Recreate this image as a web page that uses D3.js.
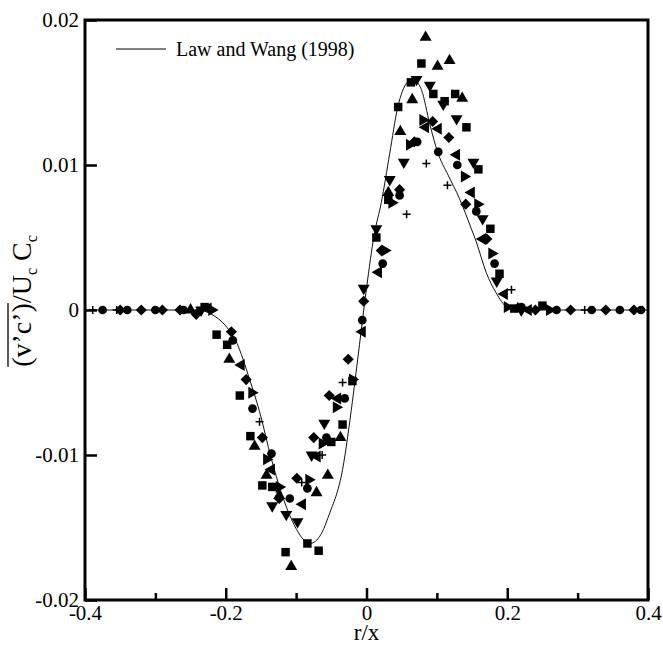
<!DOCTYPE html>
<html lang="en">
<head>
<meta charset="utf-8">
<title>v'c' profile</title>
<script src="https://d3js.org/d3.v7.min.js"></script>
<style>
  body { margin: 0; background: #fff; }
  text { font-family: "Liberation Serif", "Times New Roman", serif; fill: #000; }
</style>
</head>
<body>
<svg width="663" height="648"></svg>
<script>
// axis ticks
var xTicks = [-0.4, -0.2, 0, 0.2, 0.4];
var xTickLabels = ["-0.4", "-0.2", "0", "0.2", "0.4"];
var xMinor = [-0.3, -0.1, 0.1, 0.3];
var yTicks = [-0.02, -0.01, 0, 0.01, 0.02];
var yTickLabels = ["-0.02", "-0.01", "0", "0.01", "0.02"];

// Law and Wang (1998) curve
var modelR = [-0.4, -0.24, -0.22, -0.2, -0.185, -0.166, -0.152, -0.135, -0.121, -0.105, -0.09, -0.08, -0.065, -0.053, -0.034, -0.02, -0.01, 0, 0.011, 0.021, 0.033, 0.044, 0.058, 0.066, 0.078, 0.09, 0.101, 0.116, 0.132, 0.149, 0.156, 0.17, 0.184, 0.2, 0.22, 0.4];
var modelY = [0, 0, -0.0003, -0.0011, -0.0022, -0.0048, -0.007, -0.0103, -0.0126, -0.0146, -0.0158, -0.0161, -0.0155, -0.0141, -0.011, -0.0063, -0.0024, 0.0015, 0.0052, 0.0074, 0.0108, 0.0139, 0.0157, 0.0159, 0.0152, 0.0128, 0.0109, 0.0093, 0.0077, 0.0056, 0.0047, 0.0026, 0.0012, 0.0002, 0, 0];

// measured points [r/x, value]
var circles = [[-0.375,0],[-0.34,0],[-0.30,0],[-0.26,0],[-0.19,-0.0021],[-0.162,-0.0068],[-0.135,-0.0099],[-0.109,-0.013],[-0.084,-0.0123],[-0.057,-0.0088],[-0.031,-0.0061],[-0.006,-0.0007],[0.023,0.0032],[0.047,0.0079],[0.072,0.0116],[0.102,0.0109],[0.129,0.01],[0.156,0.0068],[0.182,0.0032],[0.22,0.0002],[0.27,0],[0.32,0],[0.36,0],[0.39,0]];
var squares = [[-0.23,0.0002],[-0.213,-0.0017],[-0.198,-0.0024],[-0.18,-0.0059],[-0.165,-0.0087],[-0.148,-0.0121],[-0.134,-0.0122],[-0.115,-0.0167],[-0.084,-0.0161],[-0.068,-0.0166],[-0.05,-0.0091],[-0.034,-0.0079],[-0.02,-0.0049],[0.014,0.005],[0.031,0.0076],[0.045,0.014],[0.063,0.0157],[0.078,0.017],[0.095,0.0149],[0.111,0.0144],[0.126,0.0149],[0.142,0.0126],[0.159,0.0097],[0.176,0.0056],[0.189,0.0025],[0.21,0.0001],[0.25,0.0003]];
var triUp = [[-0.25,0],[-0.195,-0.0034],[-0.159,-0.0094],[-0.142,-0.0114],[-0.124,-0.0128],[-0.107,-0.0177],[-0.071,-0.0126],[-0.055,-0.0114],[-0.037,-0.0088],[0.031,0.0081],[0.048,0.0123],[0.065,0.0145],[0.084,0.0188],[0.101,0.0168],[0.118,0.0172],[0.136,0.0146],[0.215,0.0001]];
var triDown = [[-0.235,0],[-0.134,-0.0135],[-0.114,-0.0141],[-0.098,-0.0146],[-0.078,-0.01],[-0.06,-0.0078],[-0.004,0.0015],[0.014,0.0056],[0.033,0.009],[0.053,0.0102],[0.071,0.0159],[0.09,0.0155],[0.109,0.0142],[0.128,0.0132],[0.152,0.0102],[0.165,0.0063],[0.185,0.002],[0.22,0]];
var diamonds = [[-0.35,0],[-0.32,0],[-0.29,0],[-0.265,0],[-0.242,-0.0003],[-0.192,-0.0015],[-0.171,-0.0048],[-0.148,-0.0088],[-0.124,-0.013],[-0.099,-0.0116],[-0.075,-0.0088],[-0.053,-0.0059],[-0.026,-0.0034],[-0.004,0.0006],[0.021,0.0041],[0.047,0.0083],[0.068,0.0116],[0.094,0.013],[0.117,0.0119],[0.141,0.0073],[0.171,0.0049],[0.24,0],[0.29,0],[0.34,0],[0.38,0]];
var triRight = [[-0.22,0],[-0.163,-0.0057],[-0.142,-0.0103],[-0.124,-0.0122],[-0.082,-0.0117],[-0.063,-0.0092],[-0.043,-0.0067],[-0.02,-0.0048],[0.026,0.0041],[0.036,0.0074],[0.061,0.0114],[0.08,0.0131],[0.139,0.0092],[0.158,0.0073],[0.178,0.0039],[0.2,0.0002],[0.26,0]];
var triLeft = [[-0.225,0.0001],[-0.178,-0.0038],[-0.135,-0.011],[-0.091,-0.0134],[-0.07,-0.0101],[-0.041,-0.0061],[-0.006,-0.0015],[0.017,0.0026],[0.084,0.0126],[0.102,0.0125],[0.128,0.0107],[0.149,0.0081],[0.165,0.0049],[0.196,0.0011],[0.23,0]];
var plusPts = [[-0.389,0],[-0.355,0],[-0.152,-0.0077],[-0.092,-0.0119],[-0.063,-0.01],[-0.034,-0.005],[0.057,0.0066],[0.085,0.0101],[0.115,0.0086],[0.206,0.0014],[0.31,0]];

var svg = d3.select("svg");
var plotL = 85, plotR = 648, plotT = 20, plotB = 600;

var x = d3.scaleLinear().domain([-0.4, 0.4]).range([plotL, plotR]);
var y = d3.scaleLinear().domain([-0.02, 0.02]).range([plotB, plotT]);

// model curve
var line = d3.line()
  .x(function(d) { return x(d[0]); })
  .y(function(d) { return y(d[1]); })
  .curve(d3.curveMonotoneX);

svg.append("path")
  .datum(d3.zip(modelR, modelY))
  .attr("d", line)
  .attr("fill", "none")
  .attr("stroke", "#111")
  .attr("stroke-width", 1);

// markers
var series = [
  { data: circles,  type: d3.symbolCircle,   size: 60, rot: 0 },
  { data: diamonds, type: d3.symbolSquare,   size: 62, rot: 45 },
  { data: squares,  type: d3.symbolSquare,   size: 72, rot: 0 },
  { data: triUp,    type: d3.symbolTriangle, size: 62, rot: 0 },
  { data: triDown,  type: d3.symbolTriangle, size: 62, rot: 180 },
  { data: triRight, type: d3.symbolTriangle, size: 62, rot: 90 },
  { data: triLeft,  type: d3.symbolTriangle, size: 62, rot: -90 }
];

series.forEach(function(s) {
  svg.append("g").selectAll("path")
    .data(s.data)
    .enter().append("path")
    .attr("d", d3.symbol().type(s.type).size(s.size))
    .attr("transform", function(d) {
      return "translate(" + x(d[0]) + "," + y(d[1]) + ") rotate(" + s.rot + ")";
    })
    .attr("fill", "#000");
});

svg.append("g").selectAll("path")
  .data(plusPts)
  .enter().append("path")
  .attr("d", "M-4,0H4M0,-4V4")
  .attr("transform", function(d) { return "translate(" + x(d[0]) + "," + y(d[1]) + ")"; })
  .attr("stroke", "#000")
  .attr("stroke-width", 1.5);

// axes
svg.append("g")
  .attr("transform", "translate(0," + plotB + ")")
  .call(d3.axisBottom(x).tickValues(xTicks).tickSize(-12).tickPadding(5)
    .tickFormat(function(d, i) { return xTickLabels[i]; }));
svg.append("g")
  .attr("transform", "translate(0," + plotB + ")")
  .call(d3.axisBottom(x).tickValues(xMinor).tickSize(-7).tickFormat(""));
svg.append("g")
  .attr("transform", "translate(" + plotL + ",0)")
  .call(d3.axisLeft(y).tickValues(yTicks).tickSize(-12).tickPadding(6)
    .tickFormat(function(d, i) { return yTickLabels[i]; }));

svg.selectAll(".domain").remove();
svg.selectAll(".tick line").attr("stroke", "#000").attr("stroke-width", 2.5);
svg.selectAll(".tick text")
  .style("font-family", "'Liberation Serif', serif")
  .style("font-size", "21px");

svg.append("rect")
  .attr("x", plotL).attr("y", plotT)
  .attr("width", plotR - plotL).attr("height", plotB - plotT)
  .attr("fill", "none")
  .attr("stroke", "#000")
  .attr("stroke-width", 3);

// axis titles
svg.append("text")
  .attr("x", x(0)).attr("y", 640)
  .attr("text-anchor", "middle")
  .style("font-size", "23px")
  .text("r/x");

var yl = svg.append("g").attr("transform", "translate(31,301) rotate(-90)");
var ylt = yl.append("text")
  .attr("text-anchor", "middle")
  .style("font-size", "28px");
ylt.append("tspan").text("(v\u2019c\u2019)/U");
ylt.append("tspan").attr("dy", 6).style("font-size", "16px").text("c");
ylt.append("tspan").attr("dy", -6).text(" C");
ylt.append("tspan").attr("dy", 6).style("font-size", "16px").text("c");

// overline over (v'c')
var a = ylt.node().getExtentOfChar(0);
var b = ylt.node().getExtentOfChar(5);
yl.append("line")
  .attr("x1", a.x).attr("x2", b.x + b.width)
  .attr("y1", a.y + 2).attr("y2", a.y + 2)
  .attr("stroke", "#000").attr("stroke-width", 1.3);

// legend
svg.append("line")
  .attr("x1", 116).attr("x2", 166).attr("y1", 49).attr("y2", 49)
  .attr("stroke", "#000").attr("stroke-width", 1);
svg.append("text")
  .attr("x", 176).attr("y", 56)
  .style("font-size", "20px")
  .text("Law and Wang (1998)");
</script>
</body>
</html>
